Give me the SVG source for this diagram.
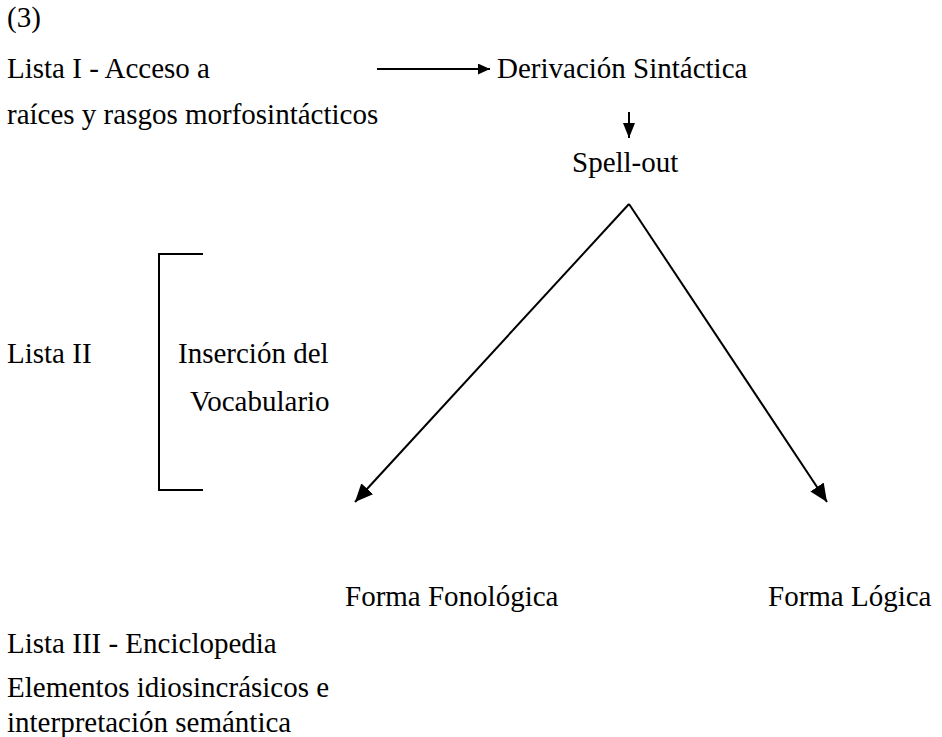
<svg xmlns="http://www.w3.org/2000/svg" width="942" height="737" viewBox="0 0 942 737">
<defs>
<style>
text{font-family:"Liberation Serif","Times New Roman",serif;font-size:29px;fill:#000}
.ln{stroke:#000;stroke-width:2;fill:none}
</style>
<marker id="ah" viewBox="0 0 10 10" refX="10" refY="5" markerWidth="12" markerHeight="11" markerUnits="userSpaceOnUse" orient="auto" preserveAspectRatio="none"><path d="M0,0L10,5L0,10z" fill="#000"/></marker>
<marker id="ahd" viewBox="0 0 10 10" refX="10" refY="5" markerWidth="15" markerHeight="12" markerUnits="userSpaceOnUse" orient="auto" preserveAspectRatio="none"><path d="M0,0L10,5L0,10z" fill="#000"/></marker>
<marker id="ah2" viewBox="0 0 10 10" refX="10" refY="5" markerWidth="18" markerHeight="16" markerUnits="userSpaceOnUse" orient="auto" preserveAspectRatio="none"><path d="M0,0L10,5L0,10z" fill="#000"/></marker>
</defs>
<rect width="942" height="737" fill="#fff"/>
<g id="label3"><text x="7" y="27">(3)</text></g>
<g id="lista1"><text x="7" y="78">Lista I - Acceso a</text><text x="7" y="124">raíces y rasgos morfosintácticos</text></g>
<g id="derivacion"><text x="497" y="78">Derivación Sintáctica</text></g>
<g id="spellout"><text x="572" y="172">Spell-out</text></g>
<g id="lista2"><text x="7" y="363">Lista II</text></g>
<g id="insercion"><path class="ln" d="M203,254H159V490H203"/><text x="178" y="363">Inserción del</text><text x="190" y="411">Vocabulario</text></g>
<g id="ff"><text x="345" y="606">Forma Fonológica</text></g>
<g id="fl"><text x="768" y="606">Forma Lógica</text></g>
<g id="lista3"><text x="7" y="653">Lista III - Enciclopedia</text><text x="7" y="697">Elementos idiosincrásicos e</text><text x="7" y="732">interpretación semántica</text></g>
<g id="connectors">
<line class="ln" x1="377" y1="69" x2="490" y2="69" marker-end="url(#ah)"/>
<line class="ln" x1="629" y1="112" x2="629" y2="138" marker-end="url(#ahd)"/>
<line class="ln" x1="629" y1="204" x2="355" y2="502" marker-end="url(#ah2)"/>
<line class="ln" x1="629" y1="204" x2="827" y2="502" marker-end="url(#ah2)"/>
</g>
</svg>
